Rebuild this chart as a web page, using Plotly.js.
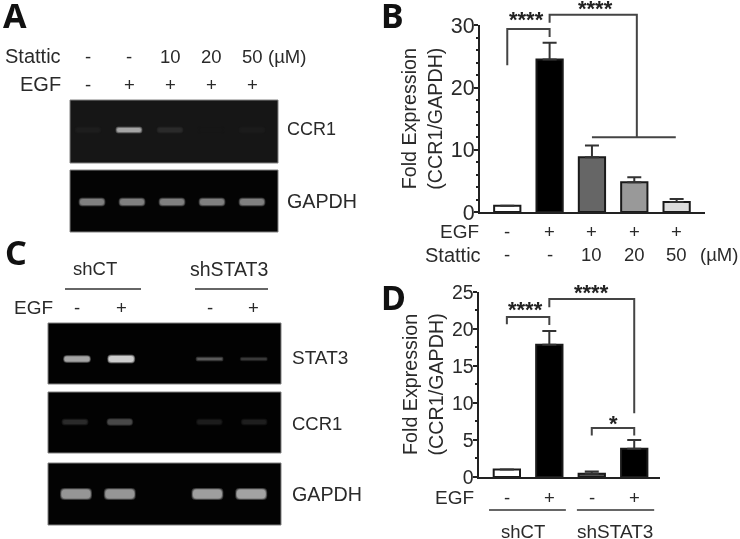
<!DOCTYPE html>
<html>
<head>
<meta charset="utf-8">
<script src="https://cdn.plot.ly/plotly-3.0.1.min.js"></script>
<style>
  html, body { margin: 0; padding: 0; background: #fff; }
  #chart { width: 740px; height: 539px; filter: blur(0.6px); }
</style>
</head>
<body>
<div id="chart"></div>
<script>
// Panel B values
const groupsB = [0, 1, 2, 3, 4];
const foldB = [1.0, 24.5, 8.8, 4.8, 1.6];
const errB = [0, 2.7, 1.9, 0.8, 0.5];
const fillB = ['#ffffff', '#000000', '#666666', '#999999', '#dddddd'];
const egfB = ['-', '+', '+', '+', '+'];
const statticB = ['-', '-', '10', '20', '50'];

// Panel D values
const groupsD = [0, 1, 2, 3];
const foldD = [1.0, 17.85, 0.45, 3.8];
const errD = [0, 1.85, 0.3, 1.2];
const fillD = ['#ffffff', '#000000', '#555555', '#000000'];
const egfD = ['-', '+', '-', '+'];

// Gel band brightness, 0-255 grey, one per lane
const lanesA = [0, 1, 2, 3, 4];
const statticA = ['-', '-', '10', '20', '50'];
const egfA = ['-', '+', '+', '+', '+'];
const ccr1GrayA = [29, 165, 42, 22, 27];
const gapdhGrayA = [128, 128, 128, 128, 128];

const lanesC = [0, 1, 3, 4];
const egfC = ['-', '+', '-', '+'];
const stat3GrayC = [165, 205, 90, 62];
const ccr1GrayC = [42, 72, 28, 30];
const gapdhGrayC = [150, 150, 158, 162];

const W = 740, H = 539;
const INK = '#2a2a2a';
const FONT = 'Liberation Sans, Arial, sans-serif';
const fx = px => px / W;
const fy = py => 1 - py / H;

// One gel strip: own hidden axes, dark background, bands as rounded bars
const gels = [
  { id: 3, box: [70, 278, 100, 163], lane0: 88, step: 41, lanes: lanesA, gray: ccr1GrayA, mid: 33, w: 24, h: [4, 4, 4, 4, 4], bg: 22 },
  { id: 4, box: [70, 278, 170, 232], lane0: 92, step: 40, lanes: lanesA, gray: gapdhGrayA, mid: 30, w: 24, h: [6, 6, 6, 6, 6], bg: 4 },
  { id: 5, box: [48, 281, 323, 384], lane0: 77, step: 44.2, lanes: lanesC, gray: stat3GrayC, mid: 25, w: 25, h: [5, 6, 2, 1.5], bg: 2 },
  { id: 6, box: [48, 281, 392, 453], lane0: 75, step: 44.8, lanes: lanesC, gray: ccr1GrayC, mid: 31, w: 24, h: [4, 5, 4, 4], bg: 2 },
  { id: 7, box: [48, 281, 463, 525], lane0: 76, step: 43.8, lanes: lanesC, gray: gapdhGrayC, mid: 31, w: 29, h: [9, 9, 9, 9], bg: 3 }
];

const traces = [];
const shapes = [];
const layout = {
  width: W, height: H,
  margin: { l: 0, r: 0, t: 0, b: 0 },
  paper_bgcolor: '#fff', plot_bgcolor: 'rgba(0,0,0,0)',
  showlegend: false, barmode: 'overlay',
  font: { family: FONT, color: INK, size: 18 }
};

gels.forEach(g => {
  const [x0, x1, y0, y1] = g.box;
  const xa = 'x' + g.id, ya = 'y' + g.id;
  layout['xaxis' + g.id] = {
    domain: [fx(x0), fx(x1)], anchor: ya, visible: false, fixedrange: true,
    range: [(x0 - g.lane0) / g.step, (x1 - g.lane0) / g.step]
  };
  layout['yaxis' + g.id] = {
    domain: [fy(y1), fy(y0)], anchor: xa, visible: false, fixedrange: true,
    range: [0, y1 - y0]
  };
  shapes.push({
    type: 'rect', xref: xa + ' domain', yref: ya + ' domain', x0: 0, x1: 1, y0: 0, y1: 1,
    layer: 'below', fillcolor: `rgb(${g.bg},${g.bg},${g.bg})`, line: { color: '#808080', width: 1 }
  });
  // halo, body, core
  [[3, 3, 0.3], [1.5, 1.5, 0.7], [0, 0, 1]].forEach(([dw, dh, k]) => {
    const colors = g.gray.map(v => {
      const c = Math.round(g.bg + (v - g.bg) * k);
      return `rgb(${c},${c},${c})`;
    });
    traces.push({
      type: 'bar', xaxis: xa, yaxis: ya, x: g.lanes,
      y: g.h.map(h => h + dh), base: g.h.map(h => g.mid - (h + dh) / 2),
      width: (g.w + dw) / g.step,
      marker: { color: colors, line: { width: 0 }, cornerradius: 4 },
      hoverinfo: 'skip'
    });
  });
});

function barTrace(xs, ys, errs, fills, xa, ya) {
  return {
    type: 'bar', x: xs, y: ys, xaxis: xa, yaxis: ya, width: 0.62,
    marker: { color: fills, line: { color: '#1a1a1a', width: 2 } },
    error_y: { type: 'data', symmetric: false, array: errs, arrayminus: xs.map(() => 0), color: '#333', thickness: 2, width: 7 }
  };
}
function bracket(xs, ys, xa, ya) {
  return {
    type: 'scatter', mode: 'lines', x: xs, y: ys, xaxis: xa, yaxis: ya,
    line: { color: '#444', width: 2 }, hoverinfo: 'skip'
  };
}

traces.push(barTrace(groupsB, foldB, errB, fillB, 'x', 'y'));
traces.push(barTrace(groupsD, foldD, errD, fillD, 'x2', 'y2'));
// y8 has the scale of y but runs on above the top tick, so the brackets are not clipped
traces.push(bracket([0, 0, 1, 1], [23.6, 29.4, 29.4, 28.1], 'x', 'y8'));
traces.push(bracket([1, 1, 3.06, 3.06], [30.4, 31.7, 31.7, 12.0], 'x', 'y8'));
traces.push(bracket([2, 3.98], [12.0, 12.0], 'x', 'y8'));
traces.push(bracket([0, 0, 1, 1], [20.6, 21.6, 21.6, 20.5], 'x2', 'y2'));
traces.push(bracket([1, 1, 3, 3], [22.9, 24.0, 24.0, 8.6], 'x2', 'y2'));
traces.push(bracket([2, 2, 3, 3], [5.6, 6.6, 6.6, 5.6], 'x2', 'y2'));

function valueAxis(domain, xa, top, major, minor, tickSize) {
  return {
    domain, anchor: xa, range: [0, top], fixedrange: true, zeroline: false, showgrid: false,
    tick0: 0, dtick: major, ticks: 'outside', ticklen: 4, tickwidth: 2, tickcolor: '#222',
    minor: { dtick: minor, ticks: 'outside', ticklen: 2, tickwidth: 2, tickcolor: '#222' },
    showline: true, linecolor: '#222', linewidth: 2,
    ticklabelstandoff: -5,
    tickfont: { size: tickSize, color: INK },
    title: { text: 'Fold Expression<br>(CCR1/GAPDH)', standoff: 3, font: { size: 19.7, color: INK } }
  };
}
function groupAxis(domain, ya, range) {
  return {
    domain, anchor: ya, range, fixedrange: true, zeroline: false, showgrid: false,
    showticklabels: false, ticks: '', showline: true, linecolor: '#222', linewidth: 2
  };
}
layout.xaxis = groupAxis([fx(480), fx(705)], 'y', [-0.644, 4.67]);
layout.yaxis = valueAxis([fy(212), fy(25.3)], 'x', 30, 10, 2, 21.5);
layout.yaxis8 = { domain: [fy(212), fy(0)], anchor: 'x', range: [0, 212 * 30 / (212 - 25.3)], visible: false, fixedrange: true };
layout.xaxis2 = groupAxis([fx(478.5), fx(660)], 'y2', [-0.668, 3.607]);
layout.yaxis2 = valueAxis([fy(477), fy(291.7)], 'x2', 25, 5, 2.5, 19.5);

const notes = [];
function label(text, px, py, anchor, size, extra) {
  notes.push(Object.assign({
    text, x: fx(px), y: fy(py), xref: 'paper', yref: 'paper', xanchor: anchor || 'center', yanchor: 'middle',
    showarrow: false, font: { size: size || 18.5, color: INK }
  }, extra || {}));
}
function row(values, xs, xa, py, size) {
  values.forEach((v, i) => notes.push({
    text: v, x: xs[i], y: fy(py), xref: xa, yref: 'paper', xanchor: 'center', yanchor: 'middle',
    showarrow: false, font: { size: size || 18.5, color: INK }
  }));
}
const panelFont = { family: 'Noto Sans, sans-serif', weight: 700, color: '#111', size: 34 };
[['A', 1, 15], ['B', 379, 15], ['C', 3, 252], ['D', 379, 297]].forEach(([t, x, y]) => {
  label(t, x, y, 'left', 34, { font: panelFont });
});
const starFont = { family: FONT, weight: 700, color: '#222', size: 22 };

// Panel A text
label('Stattic', 63, 56, 'right', 20);
row(statticA, lanesA, 'x3', 56);
label('(µM)', 287, 57);
label('EGF', 63, 84, 'right', 20);
row(egfA, lanesA, 'x3', 84);
label('CCR1', 285, 129, 'left', 18);
label('GAPDH', 285, 201, 'left', 19.7);

// Panel B text
label('EGF', 481, 232, 'right', 19);
row(egfB, groupsB, 'x', 232);
label('Stattic', 483, 255, 'right', 20);
row(statticB, groupsB, 'x', 255);
label('(µM)', 719, 254);
label('****', 526.7, 20, 'center', 22, { font: starFont });
label('****', 595, 9, 'center', 22, { font: starFont });

// Panel C text
label('shCT', 95, 269);
label('shSTAT3', 229, 269, 'center', 19.5);
label('EGF', 55, 307, 'right', 19);
row(egfC, lanesC, 'x5', 307);
label('STAT3', 290, 357, 'left', 19);
label('CCR1', 290, 423, 'left');
label('GAPDH', 290, 494, 'left', 19.7);
shapes.push({ type: 'line', xref: 'paper', yref: 'paper', x0: fx(65), x1: fx(141), y0: fy(289), y1: fy(289), line: { color: '#333', width: 1.5 } });
shapes.push({ type: 'line', xref: 'paper', yref: 'paper', x0: fx(195), x1: fx(268), y0: fy(289), y1: fy(289), line: { color: '#333', width: 1.5 } });

// Panel D text
label('EGF', 476, 497, 'right', 19);
row(egfD, groupsD, 'x2', 497);
label('shCT', 523, 531);
label('shSTAT3', 615, 531, 'center', 19);
label('****', 525, 309, 'center', 22, { font: starFont });
label('****', 591.7, 292, 'center', 22, { font: starFont });
label('*', 613.7, 423, 'center', 22, { font: starFont });
shapes.push({ type: 'line', xref: 'x2', yref: 'paper', x0: -0.42, x1: 1.39, y0: fy(510), y1: fy(510), line: { color: '#333', width: 1.5 } });
shapes.push({ type: 'line', xref: 'x2', yref: 'paper', x0: 1.65, x1: 3.47, y0: fy(510), y1: fy(510), line: { color: '#333', width: 1.5 } });

layout.shapes = shapes;
layout.annotations = notes;

Plotly.newPlot('chart', traces, layout, { displayModeBar: false, staticPlot: true });
</script>
</body>
</html>
